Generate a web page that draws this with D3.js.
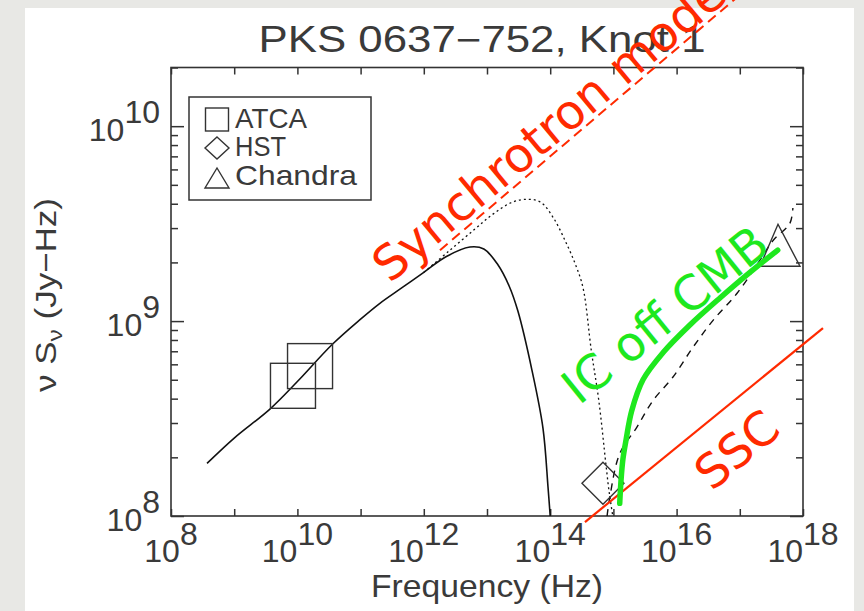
<!DOCTYPE html>
<html>
<head>
<meta charset="utf-8">
<script src="https://cdn.jsdelivr.net/npm/d3@7"></script>
<style>
  html, body { margin: 0; padding: 0; background: #e8e8e5; }
  svg { display: block; }
</style>
</head>
<body>
<svg id="chart" width="864" height="611"></svg>
<script>
// ---- data (log10 of frequency in Hz, log10 of nu*S_nu in Jy-Hz) ----
const solidLogNu  = [8.57, 9.0, 9.57, 10.0, 10.55, 11.0, 11.3, 11.65, 12.0, 12.35, 12.73, 12.95, 13.17, 13.35, 13.49, 13.71, 13.886, 13.965, 14.0];
const solidLogS   = [8.27, 8.40, 8.55, 8.69, 8.88, 9.01, 9.09, 9.17, 9.25, 9.33, 9.38, 9.37, 9.29, 9.18, 9.05, 8.75, 8.45, 8.15, 8.0];

const dottedLogNu = [12.0, 12.4, 12.8, 13.1, 13.4, 13.65, 13.85, 14.05, 14.24, 14.4, 14.52, 14.65, 14.77, 14.88, 14.93, 14.99];
const dottedLogS  = [9.25, 9.36, 9.47, 9.55, 9.61, 9.625, 9.61, 9.53, 9.41, 9.29, 9.17, 8.85, 8.59, 8.27, 8.13, 8.0];

const dashedLogNu = [14.9, 14.95, 15.1, 15.37, 15.63, 15.94, 16.26, 16.58, 16.96, 17.32, 17.53, 17.79, 17.84];
const dashedLogS  = [8.0, 8.11, 8.32, 8.455, 8.594, 8.712, 8.866, 9.005, 9.144, 9.313, 9.415, 9.50, 9.58];

const icCmbLogNu  = [15.10, 15.12, 15.15, 15.20, 15.29, 15.47, 15.79, 16.21, 16.69, 17.16, 17.6];
const icCmbLogS   = [8.065, 8.18, 8.29, 8.39, 8.54, 8.70, 8.84, 8.98, 9.12, 9.25, 9.364];

const sscLogNu    = [14.55, 18.316];
const sscLogS     = [7.969, 8.964];

const synchModelLogNu = [12.256, 17.0];
const synchModelLogS  = [9.364, 10.673];

const atcaLogNu    = [9.93, 10.2];
const atcaLogS     = [8.668, 8.769];
const hstLogNu     = [14.835];
const hstLogS      = [8.168];
const chandraLogNu = [17.636];
const chandraLogS  = [9.353];

const xTickExp   = [8, 9, 10, 11, 12, 13, 14, 15, 16, 17, 18];
const xLabelExp  = [8, 10, 12, 14, 16, 18];
const yTickExp   = [8, 9, 10];
const yMinorMult = [2, 3, 4, 5, 6, 7, 8, 9];

const legendItems = ["ATCA", "HST", "Chandra"];
const legendWidths = [72, 51, 122];

// ---- layout ----
const svg = d3.select("#chart");
const W = 864, H = 611;
const plot = { left: 171, right: 803, top: 67.5, bottom: 516 };

svg.append("rect").attr("x", 0).attr("y", 0).attr("width", W).attr("height", H).attr("fill", "#e8e8e5");
svg.append("rect").attr("x", 25).attr("y", 8).attr("width", 829).attr("height", H - 8).attr("fill", "#ffffff");

const x = d3.scaleLog().domain([1e8, 1e18]).range([plot.left, plot.right]);
const y = d3.scaleLog().domain([1e8, 2e10]).range([plot.bottom, plot.top]);

const axisColor = "#333";
const textColor = "#3a3a3a";
const labelFont = "'Liberation Sans', Arial, sans-serif";

// ---- axes ----
const xTicks = xTickExp.map(e => Math.pow(10, e));
const yMajor = yTickExp.map(e => Math.pow(10, e));
const yMinor = [];
yTickExp.forEach(e => yMinorMult.forEach(m => {
  const v = m * Math.pow(10, e);
  if (v <= y.domain()[1]) yMinor.push(v);
}));

function styleAxis(g) {
  g.select(".domain").remove();
  g.selectAll(".tick line").attr("stroke", axisColor).attr("stroke-width", 1.5);
  g.selectAll(".tick text").remove();
}

svg.append("g").attr("transform", `translate(0,${plot.bottom})`)
  .call(d3.axisBottom(x).tickValues(xTicks).tickSize(-7).tickFormat(() => "")).call(styleAxis);
svg.append("g").attr("transform", `translate(0,${plot.top})`)
  .call(d3.axisTop(x).tickValues(xTicks).tickSize(-7).tickFormat(() => "")).call(styleAxis);
svg.append("g").attr("transform", `translate(${plot.left},0)`)
  .call(d3.axisLeft(y).tickValues(yMajor).tickSize(-13).tickFormat(() => "")).call(styleAxis);
svg.append("g").attr("transform", `translate(${plot.left},0)`)
  .call(d3.axisLeft(y).tickValues(yMinor).tickSize(-7).tickFormat(() => "")).call(styleAxis);
svg.append("g").attr("transform", `translate(${plot.right},0)`)
  .call(d3.axisRight(y).tickValues(yMajor).tickSize(-13).tickFormat(() => "")).call(styleAxis);
svg.append("g").attr("transform", `translate(${plot.right},0)`)
  .call(d3.axisRight(y).tickValues(yMinor).tickSize(-7).tickFormat(() => "")).call(styleAxis);

svg.append("rect")
  .attr("x", plot.left).attr("y", plot.top)
  .attr("width", plot.right - plot.left).attr("height", plot.bottom - plot.top)
  .attr("fill", "none").attr("stroke", axisColor).attr("stroke-width", 1.6);

// tick labels as 10 with a raised exponent
const xl = svg.append("g").attr("font-family", labelFont).attr("font-size", 32).attr("fill", textColor);
xLabelExp.forEach(e => {
  const t = xl.append("text").attr("x", x(Math.pow(10, e))).attr("y", plot.bottom + 46).attr("text-anchor", "middle");
  t.append("tspan").text("10");
  t.append("tspan").attr("dy", -17).text(e);
});
const yl = svg.append("g").attr("font-family", labelFont).attr("font-size", 32).attr("fill", textColor);
yTickExp.forEach(e => {
  const t = yl.append("text").attr("x", plot.left - 11).attr("y", y(Math.pow(10, e)) + 15).attr("text-anchor", "end");
  t.append("tspan").text("10");
  t.append("tspan").attr("dy", -18).text(e);
});

// titles
svg.append("text")
  .attr("x", 482).attr("y", 52).attr("text-anchor", "middle")
  .attr("font-family", labelFont).attr("font-size", 36).attr("fill", textColor)
  .attr("textLength", 447).attr("lengthAdjust", "spacingAndGlyphs")
  .text("PKS 0637\u2212752, Knot 1");

svg.append("text")
  .attr("x", 487).attr("y", 597).attr("text-anchor", "middle")
  .attr("font-family", labelFont).attr("font-size", 32).attr("fill", textColor)
  .attr("textLength", 232).attr("lengthAdjust", "spacingAndGlyphs")
  .text("Frequency (Hz)");

const yt = svg.append("text")
  .attr("transform", "translate(56,295) rotate(-90)")
  .attr("text-anchor", "middle")
  .attr("font-family", labelFont).attr("font-size", 30).attr("fill", textColor)
  .attr("textLength", 194).attr("lengthAdjust", "spacingAndGlyphs");
yt.append("tspan").text("\u03bd S");
yt.append("tspan").attr("dy", 6).attr("font-size", 21).text("\u03bd");
yt.append("tspan").attr("dy", -6).text(" (Jy\u2212Hz)");

// ---- curves ----
const pts = (lx, ly) => lx.map((v, i) => [x(Math.pow(10, v)), y(Math.pow(10, ly[i]))]);
const line = d3.line().curve(d3.curveCatmullRom.alpha(0.5));

svg.append("path").attr("d", line(pts(dottedLogNu, dottedLogS)))
  .attr("fill", "none").attr("stroke", "#111").attr("stroke-width", 1.3).attr("stroke-dasharray", "2,3");
svg.append("path").attr("d", line(pts(solidLogNu, solidLogS)))
  .attr("fill", "none").attr("stroke", "#111").attr("stroke-width", 1.6);
svg.append("path").attr("d", line(pts(dashedLogNu, dashedLogS)))
  .attr("fill", "none").attr("stroke", "#111").attr("stroke-width", 1.4).attr("stroke-dasharray", "7,6");

// ---- data points ----
const symStroke = { fill: "none", stroke: "#333", "stroke-width": 1.4 };
function applyStyle(sel) { Object.entries(symStroke).forEach(([k, v]) => sel.attr(k, v)); return sel; }

pts(atcaLogNu, atcaLogS).forEach(([px, py]) => {
  applyStyle(svg.append("rect").attr("x", px - 22.5).attr("y", py - 22.5).attr("width", 45).attr("height", 45));
});
pts(hstLogNu, hstLogS).forEach(([px, py]) => {
  applyStyle(svg.append("path").attr("d", `M${px},${py - 21}L${px + 21},${py}L${px},${py + 21}L${px - 21},${py}Z`));
});
pts(chandraLogNu, chandraLogS).forEach(([px, py]) => {
  applyStyle(svg.append("path").attr("d", `M${px - 2},${py - 28}L${px + 20},${py + 14}L${px - 20},${py + 14}Z`));
});

// ---- model annotations ----
svg.append("path").attr("d", d3.line()(pts(sscLogNu, sscLogS)))
  .attr("fill", "none").attr("stroke", "#ff2a00").attr("stroke-width", 2.2);
svg.append("path").attr("d", d3.line()(pts(synchModelLogNu, synchModelLogS)))
  .attr("fill", "none").attr("stroke", "#ff2a00").attr("stroke-width", 2).attr("stroke-dasharray", "10,6");
svg.append("path").attr("d", line(pts(icCmbLogNu, icCmbLogS)))
  .attr("fill", "none").attr("stroke", "#1ee81e").attr("stroke-width", 5.5).attr("stroke-linecap", "round");

const annoFont = "'DejaVu Sans', Verdana, sans-serif";
svg.append("text").attr("transform", "translate(390,284) rotate(-40)")
  .attr("font-family", annoFont).attr("font-size", 48).attr("fill", "#ff2a00")
  .text("Synchrotron model");
svg.append("text").attr("transform", "translate(579,406) rotate(-39)")
  .attr("font-family", annoFont).attr("font-size", 48).attr("fill", "#1ee81e")
  .text("IC off CMB");
svg.append("text").attr("transform", "translate(712,492) rotate(-40)")
  .attr("font-family", annoFont).attr("font-size", 47).attr("fill", "#ff2a00")
  .text("SSC");

// ---- legend ----
const lg = svg.append("g");
lg.append("rect").attr("x", 189).attr("y", 97).attr("width", 182).attr("height", 103)
  .attr("fill", "#fff").attr("stroke", axisColor).attr("stroke-width", 1.5);
const lx0 = 217, lyBase = [130, 158, 187];
applyStyle(lg.append("rect").attr("x", lx0 - 11.5).attr("y", 108).attr("width", 23).attr("height", 23));
applyStyle(lg.append("path").attr("d", `M${lx0},137L${lx0 + 12},148L${lx0},159L${lx0 - 12},148Z`));
applyStyle(lg.append("path").attr("d", `M${lx0},168L${lx0 + 12},188L${lx0 - 12},188Z`));
legendItems.forEach((name, i) => {
  lg.append("text").attr("x", 235).attr("y", lyBase[i] - 2)
    .attr("font-family", labelFont).attr("font-size", 28).attr("fill", textColor)
    .attr("textLength", legendWidths[i]).attr("lengthAdjust", "spacingAndGlyphs")
    .text(name);
});
</script>
</body>
</html>
